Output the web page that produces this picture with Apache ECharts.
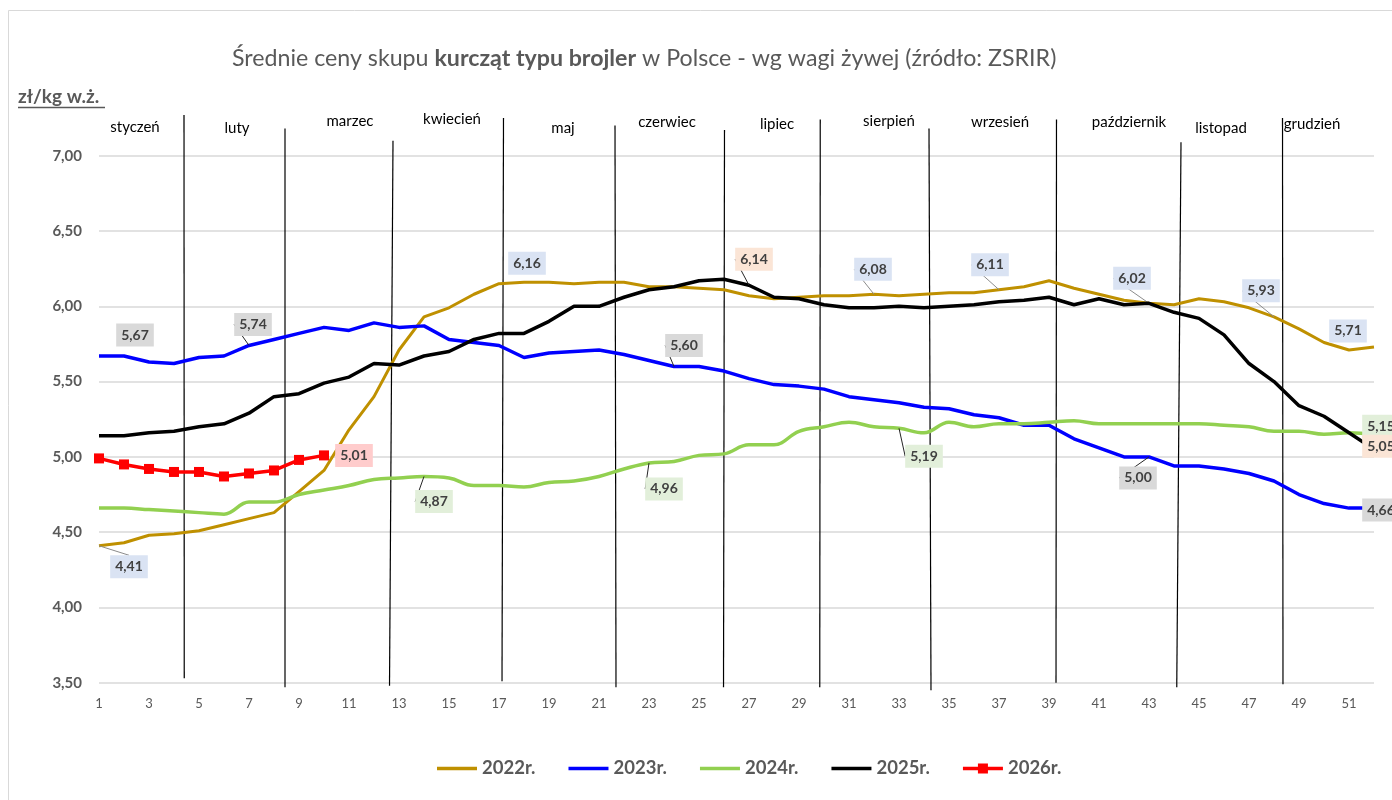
<!DOCTYPE html>
<html>
<head>
<meta charset="utf-8">
<title>Średnie ceny skupu kurcząt typu brojler</title>
<script src="https://cdn.jsdelivr.net/npm/echarts@6/dist/echarts.min.js"></script>
<style>
  html, body { margin: 0; padding: 0; background: #fff; }
  #chart { width: 1392px; height: 800px; }
</style>
</head>
<body>
<div id="chart"></div>
<script>
// tygodnie roku
const weeks = ['1','2','3','4','5','6','7','8','9','10','11','12','13','14','15','16','17','18','19','20',
  '21','22','23','24','25','26','27','28','29','30','31','32','33','34','35','36','37','38','39','40',
  '41','42','43','44','45','46','47','48','49','50','51','52'];

// ceny zł/kg w.ż.
const prices2022 = [4.41, 4.43, 4.48, 4.49, 4.51, 4.55, 4.59, 4.63, 4.77, 4.91,
  5.18, 5.40, 5.71, 5.93, 5.99, 6.08, 6.15, 6.16, 6.16, 6.15,
  6.16, 6.16, 6.13, 6.13, 6.12, 6.11, 6.07, 6.05, 6.06, 6.07,
  6.07, 6.08, 6.07, 6.08, 6.09, 6.09, 6.11, 6.13, 6.17, 6.12,
  6.08, 6.04, 6.02, 6.01, 6.05, 6.03, 5.99, 5.93, 5.85, 5.76,
  5.71, 5.73];
const prices2023 = [5.67, 5.67, 5.63, 5.62, 5.66, 5.67, 5.74, 5.78, 5.82, 5.86,
  5.84, 5.89, 5.86, 5.87, 5.78, 5.76, 5.74, 5.66, 5.69, 5.70,
  5.71, 5.68, 5.64, 5.60, 5.60, 5.57, 5.52, 5.48, 5.47, 5.45,
  5.40, 5.38, 5.36, 5.33, 5.32, 5.28, 5.26, 5.21, 5.21, 5.12,
  5.06, 5.00, 5.00, 4.94, 4.94, 4.92, 4.89, 4.84, 4.75, 4.69,
  4.66, 4.66];
const prices2024 = [4.66, 4.66, 4.65, 4.64, 4.63, 4.62, 4.70, 4.70, 4.75, 4.78,
  4.81, 4.85, 4.86, 4.87, 4.86, 4.81, 4.81, 4.80, 4.83, 4.84,
  4.87, 4.92, 4.96, 4.97, 5.01, 5.02, 5.08, 5.08, 5.17, 5.20,
  5.23, 5.20, 5.19, 5.16, 5.23, 5.20, 5.22, 5.22, 5.23, 5.24,
  5.22, 5.22, 5.22, 5.22, 5.22, 5.21, 5.20, 5.17, 5.17, 5.15,
  5.16, 5.15];
const prices2025 = [5.14, 5.14, 5.16, 5.17, 5.20, 5.22, 5.29, 5.40, 5.42, 5.49,
  5.53, 5.62, 5.61, 5.67, 5.70, 5.78, 5.82, 5.82, 5.90, 6.00,
  6.00, 6.06, 6.11, 6.13, 6.17, 6.18, 6.14, 6.06, 6.05, 6.01,
  5.99, 5.99, 6.00, 5.99, 6.00, 6.01, 6.03, 6.04, 6.06, 6.01,
  6.05, 6.01, 6.02, 5.96, 5.92, 5.81, 5.62, 5.50, 5.34, 5.27,
  5.16, 5.05];
const prices2026 = [4.99, 4.95, 4.92, 4.90, 4.90, 4.87, 4.89, 4.91, 4.98, 5.01];

// miesiące i ich granice (w tygodniach)
const monthNames = ['styczeń', 'luty', 'marzec', 'kwiecień', 'maj', 'czerwiec',
  'lipiec', 'sierpień', 'wrzesień', 'październik', 'listopad', 'grudzień'];
const monthNameWeeks = [2.44, 6.52, 11.04, 15.12, 19.56, 23.72, 28.12, 32.6, 37.04, 42.2, 45.88, 49.52];
const monthNameLevels = [7.19, 7.18, 7.23, 7.24, 7.18, 7.22, 7.21, 7.23, 7.22, 7.22, 7.18, 7.21];
// [tydzień u góry, tydzień u dołu, poziom górny, poziom dolny]
const monthBorders = [
  [4.40, 4.41, 7.27, 3.53],
  [8.44, 8.44, 7.18, 3.47],
  [12.76, 12.62, 7.10, 3.48],
  [17.18, 17.12, 7.25, 3.51],
  [21.64, 21.68, 7.20, 3.47],
  [26.02, 25.98, 7.17, 3.47],
  [29.85, 29.83, 7.24, 3.47],
  [34.20, 34.28, 7.18, 3.45],
  [39.30, 39.28, 7.24, 3.50],
  [44.28, 44.11, 7.09, 3.47],
  [48.34, 48.36, 7.25, 3.49]
];

const seriesColors = ['#bf9000', '#0000ff', '#92d050', '#000000', '#ff0000'];
const labelBoxColors = ['#dae3f3', '#d9d9d9', '#e2efda', '#fbe5d6', '#ffcccc'];

// etykiety: tydzień -> [dx, dy, linia odniesienia]
const labelSpots = [
  {1: [30, 21, true], 18: [3, -19], 32: [-1, -25, true], 37: [-9, -25, true], 43: [-17, -25, true], 48: [-13, -26, true], 51: [-1, -19]},
  {2: [11, -21], 7: [4, -21, true], 24: [10, -21, true], 43: [-11, 21, true], 52: [7, 2]},
  {14: [10, 25, true], 23: [15, 26, true], 33: [25, 28, true], 52: [7, -8]},
  {27: [5, -26, true], 52: [7, -3]},
  {10: [30, 0]}
];

const fmt = v => v.toFixed(2).replace('.', ',');

function buildData(values, spots) {
  return values.map((v, i) => {
    const s = spots[i + 1];
    if (!s) return v;
    return { value: v, label: { show: true }, labelLine: { show: !!s[2] } };
  });
}

const names = ['2022r.', '2023r.', '2024r.', '2025r.', '2026r.'];
const allPrices = [prices2022, prices2023, prices2024, prices2025, prices2026];

const series = allPrices.map((vals, k) => {
  const spots = labelSpots[k];
  const isNew = k === 4;
  return {
    name: names[k],
    type: 'line',
    data: buildData(vals, spots),
    smooth: k === 2 ? 0.4 : false,
    showSymbol: true,
    showAllSymbol: true,
    symbol: isNew ? 'rect' : 'circle',
    symbolSize: isNew ? 10 : 0,
    lineStyle: { width: k === 0 ? 3 : 3.5, color: seriesColors[k] },
    itemStyle: { color: seriesColors[k] },
    label: {
      show: false,
      position: 'inside',
      formatter: p => fmt(p.value),
      fontFamily: 'Lato',
      fontWeight: 'bold',
      fontSize: 14,
      color: '#404040',
      backgroundColor: labelBoxColors[k],
      padding: [5, 5, 4, 5]
    },
    labelLine: { show: false, lineStyle: { color: k === 0 ? '#8c8c8c' : '#262626', width: 1 } },
    labelLayout: p => {
      const s = spots[p.dataIndex + 1];
      return s ? { dx: s[0], dy: s[1] } : {};
    },
    emphasis: { disabled: true },
    z: 2 + k
  };
});

// pomocnicza oś do linii miesięcy
series.push({
  type: 'line', xAxisIndex: 1, data: [], silent: true
});

const barIcon = 'path://M0,0M0,12M0,4.3L40,4.3L40,7.7L0,7.7Z';
const markerIcon = 'path://M0,0M0,12M0,4.3L40,4.3L40,7.7L0,7.7ZM15,1L25,1L25,11L15,11Z';

const option = {
  animation: false,
  backgroundColor: '#ffffff',
  textStyle: { fontFamily: 'Lato' },
  title: {
    left: 227,
    top: 42,
    text: '{n|Średnie ceny skupu }{b|kurcząt typu brojler}{n| w Polsce - wg wagi żywej (źródło: ZSRIR)}',
    textStyle: {
      fontWeight: 'normal',
      rich: {
        n: { fontFamily: 'Lato', fontSize: 23.2, fontWeight: 'normal', color: '#595959' },
        b: { fontFamily: 'Lato', fontSize: 23.2, fontWeight: 'bold', color: '#595959' }
      }
    }
  },
  legend: {
    left: 432,
    top: 754,
    itemWidth: 40,
    itemHeight: 12,
    itemGap: 33,
    textStyle: { fontFamily: 'Lato', fontWeight: 'bold', fontSize: 18.5, color: '#595959' },
    data: names.map((n, k) => ({ name: n, icon: k === 4 ? markerIcon : barIcon }))
  },
  grid: { left: 99, right: 18, top: 155.7, bottom: 117.2, outerBoundsMode: 'none' },
  xAxis: [{
    type: 'category',
    data: weeks,
    boundaryGap: false,
    axisLine: { show: false },
    axisTick: { show: false },
    axisLabel: { interval: 1, fontFamily: 'Lato', fontSize: 13, color: '#595959', margin: 15 }
  }, {
    type: 'value', min: 1, max: 52, show: false
  }],
  yAxis: {
    type: 'value',
    min: 3.5,
    max: 7,
    interval: 0.5,
    axisLine: { show: false },
    axisTick: { show: false },
    axisLabel: { formatter: v => fmt(v), fontFamily: 'Lato', fontWeight: 'bold', fontSize: 15, color: '#595959', margin: 17 },
    splitLine: { lineStyle: { color: '#d9d9d9', width: 1.5 } }
  },
  series: series
};

const chart = echarts.init(document.getElementById('chart'), null, { renderer: 'canvas' });
chart.setOption(option);

// linie i nazwy miesięcy
const toPx = (w, v) => chart.convertToPixel({ xAxisIndex: 1, yAxisIndex: 0 }, [w, v]);
const graphics = [];
graphics.push({
  type: 'rect', silent: true, z: 0,
  shape: { x: 8.5, y: 10.5, width: 1500, height: 900 },
  style: { fill: null, stroke: '#d9d9d9', lineWidth: 1 }
});
monthBorders.forEach(b => {
  const p1 = toPx(b[0], b[2]);
  const p2 = toPx(b[1], b[3]);
  graphics.push({
    type: 'line', silent: true, z: 1,
    shape: { x1: p1[0], y1: p1[1], x2: p2[0], y2: p2[1] },
    style: { stroke: '#000', lineWidth: 1.2 }
  });
});
monthNames.forEach((m, i) => {
  const p = toPx(monthNameWeeks[i], monthNameLevels[i]);
  graphics.push({
    type: 'text', silent: true, z: 10,
    x: p[0], y: p[1],
    style: { text: m, fontFamily: 'Lato', fontSize: 15, fill: '#000', align: 'center', verticalAlign: 'middle' }
  });
});
graphics.push({
  type: 'text', silent: true, z: 10,
  x: 18, y: 97,
  style: { text: 'zł/kg w.ż.', fontFamily: 'Lato', fontSize: 19, fontWeight: 'bold', fill: '#595959', align: 'left', verticalAlign: 'middle' }
});
graphics.push({
  type: 'line', silent: true, z: 10,
  shape: { x1: 18, y1: 107.5, x2: 105, y2: 107.5 },
  style: { stroke: '#595959', lineWidth: 1.3 }
});
chart.setOption({ graphic: graphics });
</script>
</body>
</html>
